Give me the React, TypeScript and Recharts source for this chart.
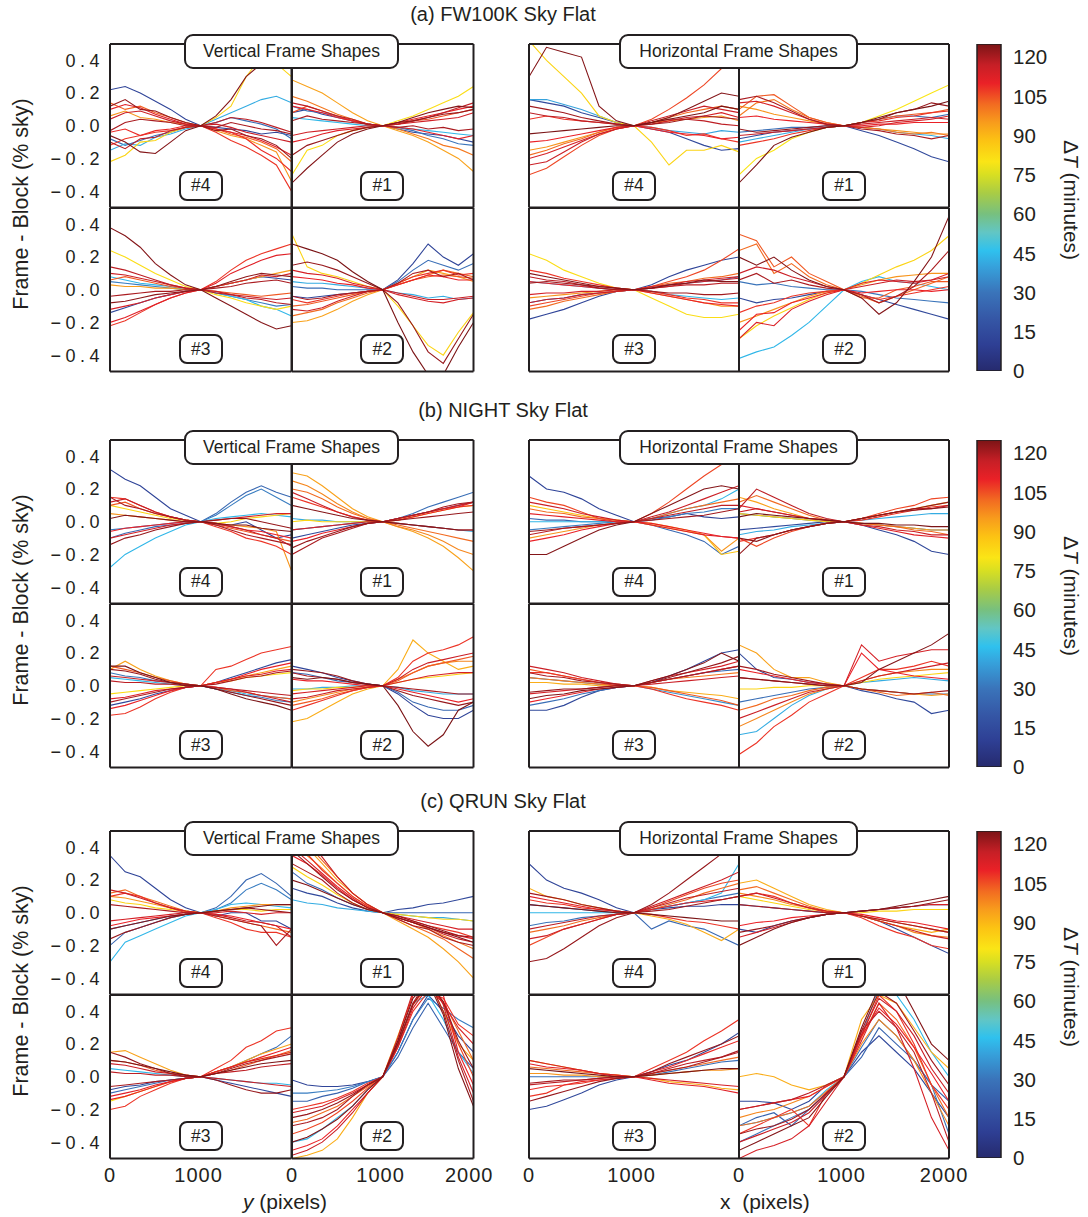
// Frame-minus-block shape panels for three sky flats, coloured by elapsed time.
import { LineChart, Line, XAxis, YAxis, BarChart, Bar } from "recharts";

type Trace = [number, string]; // [ΔT minutes, values ×100 at XS]

const XS = [0, 171, 341, 512, 683, 853, 1024, 1195, 1365, 1536, 1707, 1877, 2048];
const Y_TICKS = [-0.4, -0.2, 0, 0.2, 0.4];
const X_TICKS = [0, 1000, 2000];
const CBAR_TICKS = [0, 15, 30, 45, 60, 75, 90, 105, 120];
const SECTION_TITLES = ["(a) FW100K Sky Flat", "(b) NIGHT Sky Flat", "(c) QRUN Sky Flat"];
const GROUP_TITLES = ["Vertical Frame Shapes", "Horizontal Frame Shapes"];
const PANEL_LABELS = ["#4", "#1", "#3", "#2"];

// ---- (a) FW100K ----
const FW_V4: Trace[] = [
  [12, "22 24 20 15 10 4 0 -1 -2 -3 -5 -4 -6"],
  [28, "-8 -12 -9 -6 -4 -1 0 2 5 3 1 -2 -8"],
  [42, "-15 -11 -12 -7 -5 -2 0 4 8 12 16 18 14"],
  [84, "-22 -18 -10 -9 -4 -1 0 5 12 30 42 38 30"],
  [96, "6 9 5 4 2 1 0 -3 -6 -8 -12 -16 -34"],
  [103, "14 10 12 8 5 2 0 -2 -5 -7 -10 -14 -22"],
  [108, "-12 -8 -6 -4 -3 -1 0 -4 -9 -13 -18 -24 -40"],
  [109, "-4 -2 -6 -3 -2 0 0 -2 -4 -8 -15 -20 -28"],
  [112, "10 13 11 7 4 1 0 -2 -4 -6 -9 -13 -18"],
  [116, "4 8 9 6 3 1 0 1 -1 -4 -6 -8 -10"],
  [118, "-10 -14 -8 -7 -3 -1 0 2 5 4 2 -1 -4"],
  [120, "-3 2 4 3 2 0 0 -1 2 0 -2 -3 -5"],
  [122, "12 16 10 9 5 2 0 -3 -2 -6 -8 -12 -20"],
  [124, "-6 -10 -16 -17 -10 -3 0 6 16 30 38 40 36"],
];
const FW_V1: Trace[] = [
  [14, "8 10 7 5 3 1 0 -2 -4 -5 -6 -8 -10"],
  [30, "12 9 8 6 3 1 0 -1 -3 -6 -8 -11 -12"],
  [44, "5 4 3 2 1 0 0 -1 -2 -3 -4 -5 -6"],
  [82, "-30 -15 -12 -6 -3 -1 0 3 6 10 14 18 24"],
  [94, "28 24 20 14 8 3 0 -3 -6 -10 -15 -20 -28"],
  [100, "18 15 11 7 4 1 0 -2 -5 -8 -12 -14 -18"],
  [105, "8 12 9 6 3 1 0 1 3 4 6 8 10"],
  [110, "12 10 8 5 3 1 0 2 4 6 8 10 12"],
  [112, "-10 -8 -5 -3 -2 -1 0 -1 -2 -4 -6 -8 -6"],
  [115, "-6 -4 -3 -2 -1 0 0 1 2 3 4 5 8"],
  [118, "14 12 9 6 4 1 0 1 3 5 8 11 14"],
  [120, "3 6 4 3 2 1 0 -1 0 -2 -1 -3 -2"],
  [122, "-18 -12 -9 -6 -3 -1 0 2 3 5 7 8 10"],
  [124, "-35 -26 -18 -10 -5 -2 0 2 5 8 10 12 11"],
];
const FW_V3: Trace[] = [
  [14, "-14 -11 -8 -5 -3 -1 0 2 4 6 8 7 6"],
  [32, "5 4 3 2 1 0 0 -2 -4 -6 -8 -10 -9"],
  [44, "8 6 4 3 2 0 0 -2 -4 -6 -10 -12 -16"],
  [82, "24 20 15 10 6 2 0 -3 -5 -8 -10 -12 -10"],
  [95, "3 2 2 1 1 0 0 2 4 6 8 10 12"],
  [104, "6 8 6 4 2 1 0 -1 -2 -3 -4 -3 -2"],
  [108, "-22 -19 -14 -9 -5 -2 0 5 12 18 22 25 28"],
  [112, "-20 -17 -13 -9 -5 -2 0 4 10 14 18 21 22"],
  [114, "-12 -10 -8 -5 -3 -1 0 2 4 6 9 8 10"],
  [116, "10 9 7 5 3 1 0 -1 -3 -4 -5 -6 -5"],
  [118, "14 12 9 6 3 1 0 -2 -3 -5 -6 -8 -9"],
  [120, "-4 -3 -2 -1 -1 0 0 1 2 4 5 6 4"],
  [123, "-8 -7 -5 -3 -2 -1 0 2 5 8 10 9 8"],
  [124, "38 33 26 16 9 3 0 -5 -10 -15 -20 -24 -22"],
];
const FW_V2: Trace[] = [
  [12, "-4 -5 -4 -3 -2 -1 0 6 16 28 20 15 22"],
  [28, "2 1 1 0 0 0 0 5 12 18 15 12 16"],
  [42, "5 4 4 3 2 1 0 -2 -3 -5 -4 -6 -5"],
  [84, "34 14 10 8 5 2 0 -10 -22 -34 -40 -26 -14"],
  [94, "-20 -19 -16 -12 -7 -3 0 4 8 12 10 8 5"],
  [102, "-16 -14 -12 -8 -5 -2 0 3 6 9 12 10 8"],
  [104, "-10 -9 -7 -5 -3 -1 0 3 6 8 9 8 7"],
  [108, "-6 -8 -6 -4 -2 -1 0 4 8 10 12 9 10"],
  [110, "8 7 6 4 3 1 0 3 6 9 8 6 6"],
  [114, "12 10 9 7 4 2 0 -3 -5 -7 -8 -6 -5"],
  [116, "-12 -13 -11 -7 -4 -1 0 -2 -4 -6 -6 -5 -4"],
  [120, "-4 -6 -5 -3 -2 -1 0 4 10 12 8 10 6"],
  [122, "15 17 15 12 8 4 0 -8 -22 -38 -45 -30 -15"],
  [125, "28 25 22 18 11 5 0 -20 -38 -52 -52 -35 -20"],
];
const FW_H4: Trace[] = [
  [14, "16 14 12 8 5 2 0 -2 -4 -8 -12 -15 -14"],
  [40, "16 16 13 10 6 2 0 -1 -3 -4 -5 -3 -4"],
  [84, "52 40 30 20 6 2 0 -10 -24 -15 -15 -12 -16"],
  [96, "-15 -13 -10 -7 -4 -1 0 2 3 4 5 6 3"],
  [102, "-18 -15 -11 -8 -4 -1 0 2 5 8 10 12 10"],
  [106, "-30 -26 -19 -12 -6 -2 0 4 10 17 25 35 38"],
  [108, "4 6 4 3 2 1 0 -1 -3 -6 -5 -8 -10"],
  [110, "-10 -9 -7 -5 -3 -1 0 -2 -4 -5 -6 -8 -7"],
  [114, "-20 -17 -13 -9 -5 -2 0 1 3 5 6 8 5"],
  [116, "-24 -22 -16 -10 -5 -2 0 3 6 9 12 10 8"],
  [118, "8 6 5 3 2 1 0 2 4 4 3 1 0"],
  [121, "12 10 8 5 3 1 0 1 2 4 6 5 4"],
  [124, "30 48 45 42 12 3 0 2 5 10 15 20 18"],
  [125, "-5 -4 -3 -2 -1 0 0 2 4 6 8 12 10"],
];
const FW_H1: Trace[] = [
  [14, "-8 -6 -4 -3 -2 -1 0 -3 -6 -10 -14 -19 -22"],
  [28, "-4 -3 -2 -1 -1 0 0 2 4 6 6 5 7"],
  [42, "-10 -8 -6 -4 -2 -1 0 -1 -2 -4 -5 -6 -8"],
  [80, "-30 -20 -15 -8 -4 -1 0 2 6 10 15 20 25"],
  [96, "12 10 7 5 3 1 0 -1 -2 -3 -4 -5 -5"],
  [100, "6 14 16 10 5 2 0 -1 -2 -4 -5 -4 -6"],
  [104, "10 18 19 12 5 2 0 2 4 6 7 8 10"],
  [108, "-12 -10 -8 -5 -3 -1 0 2 3 5 6 8 9"],
  [110, "5 6 4 3 2 1 0 0 1 1 2 2 2"],
  [114, "14 15 12 8 4 1 0 -1 0 2 3 4 6"],
  [116, "-6 -5 -4 -3 -2 -1 0 1 2 3 4 5 4"],
  [120, "16 18 14 9 4 1 0 -2 -3 -5 -6 -8 -6"],
  [122, "-2 -4 -3 -2 -1 0 0 2 4 8 10 14 12"],
  [125, "-35 -24 -12 -7 -4 -1 0 2 5 8 10 12 15"],
];
const FW_H3: Trace[] = [
  [12, "-18 -15 -12 -8 -4 -1 0 3 8 12 15 18 20"],
  [30, "-8 -6 -5 -3 -2 -1 0 1 3 4 5 6 8"],
  [44, "5 4 3 2 1 0 0 -1 -3 -4 -5 -6 -5"],
  [82, "22 18 12 8 4 1 0 -5 -10 -15 -17 -17 -15"],
  [96, "-5 -4 -3 -2 -1 0 0 -2 -4 -6 -8 -10 -10"],
  [102, "-12 -10 -7 -5 -3 -1 0 2 4 5 7 8 10"],
  [106, "-10 -8 -6 -4 -2 -1 0 2 5 8 12 18 25"],
  [108, "12 10 7 5 3 1 0 -1 -3 -5 -6 -8 -8"],
  [110, "5 4 3 2 1 0 0 -2 -4 -6 -8 -9 -10"],
  [114, "-3 -2 -2 -1 -1 0 0 2 3 5 6 7 8"],
  [116, "-8 -6 -5 -3 -2 -1 0 1 2 4 5 6 7"],
  [118, "8 6 5 3 2 1 0 1 2 3 3 4 4"],
  [121, "4 5 4 3 1 0 0 -1 -2 -2 -3 -3 -2"],
  [124, "10 8 6 4 2 1 0 1 3 4 6 5 5"],
];
const FW_H2: Trace[] = [
  [14, "-5 -8 -6 -5 -3 -1 0 -3 -6 -9 -12 -15 -18"],
  [30, "5 3 4 2 1 0 0 -1 -3 -5 -6 -7 -8"],
  [44, "-42 -38 -35 -28 -20 -10 0 5 8 5 4 2 0"],
  [84, "-30 -22 -16 -11 -6 -2 0 4 9 14 18 24 33"],
  [96, "-20 -16 -12 -8 -4 -1 0 3 6 8 9 10 10"],
  [102, "24 28 10 16 8 3 0 -4 -8 -4 0 4 8"],
  [104, "34 30 14 20 10 5 0 -5 -5 0 2 5 5"],
  [108, "-14 -10 -8 -4 -2 -1 0 -3 -6 -4 -2 0 2"],
  [110, "-25 -15 -14 -8 -5 -2 0 -2 -1 0 0 -1 0"],
  [113, "-30 -20 -22 -12 -7 -3 0 4 6 5 4 6 10"],
  [116, "10 14 12 8 5 2 0 2 4 6 5 6 8"],
  [120, "6 10 4 6 3 1 0 -3 -8 -4 2 12 24"],
  [124, "20 15 20 12 6 2 0 -5 -15 -8 5 20 45"],
];

// ---- (b) NIGHT ----
const NT_V4: Trace[] = [
  [12, "32 26 22 15 8 4 0 -2 -2 0 -5 -10 -8"],
  [26, "-10 -7 -5 -3 -2 -1 0 5 12 18 22 18 15"],
  [32, "-5 -4 -3 -2 -1 0 0 4 10 16 20 15 10"],
  [44, "-28 -20 -15 -10 -6 -2 0 2 3 4 5 4 3"],
  [84, "10 8 6 4 2 1 0 -1 0 2 3 4 5"],
  [96, "5 4 3 2 1 0 0 -1 -2 -3 -4 -6 -30"],
  [104, "10 12 8 5 3 1 0 -2 -4 -6 -8 -10 -12"],
  [108, "15 14 10 6 3 1 0 -3 -6 -10 -12 -15 -20"],
  [110, "-6 -4 -3 -2 -1 0 0 -1 -3 -5 -6 -8 -10"],
  [114, "-10 -8 -6 -4 -2 -1 0 1 2 3 4 5 5"],
  [117, "12 14 10 6 3 1 0 -1 -3 -5 -8 -10 -15"],
  [120, "15 10 8 5 3 1 0 -2 -5 -8 -10 -12 -14"],
  [122, "-14 -10 -8 -5 -3 -1 0 1 2 2 0 -2 -4"],
  [124, "2 4 3 2 1 0 0 -1 -2 -2 -4 -5 -6"],
];
const NT_V1: Trace[] = [
  [14, "-10 -8 -6 -4 -2 -1 0 2 4 6 8 10 12"],
  [28, "-5 -4 -3 -2 -1 0 0 2 5 9 12 15 18"],
  [42, "2 1 1 0 0 0 0 -1 -2 -3 -4 -5 -6"],
  [84, "0 1 0 0 0 0 0 1 3 5 7 9 10"],
  [94, "30 28 22 15 8 3 0 -3 -6 -10 -15 -22 -30"],
  [98, "25 22 17 11 6 2 0 -3 -5 -8 -12 -17 -20"],
  [102, "20 18 14 9 5 2 0 -2 -4 -6 -8 -10 -12"],
  [108, "15 12 9 6 3 1 0 2 4 6 8 9 10"],
  [110, "-12 -10 -7 -5 -3 -1 0 1 3 5 7 9 12"],
  [114, "-5 -4 -3 -2 -1 0 0 -1 -2 -3 -4 -5 -5"],
  [116, "18 14 10 6 3 1 0 2 4 6 8 10 12"],
  [120, "-20 -15 -10 -7 -4 -1 0 2 4 6 9 11 12"],
  [122, "-16 -12 -9 -6 -3 -1 0 1 2 3 4 5 6"],
  [124, "10 8 6 4 2 1 0 -1 -2 -3 -4 -5 -5"],
];
const NT_V3: Trace[] = [
  [14, "-12 -10 -8 -5 -3 -1 0 2 5 8 11 14 16"],
  [30, "8 6 5 3 2 1 0 -2 -4 -6 -7 -9 -10"],
  [44, "5 4 3 2 1 0 0 -2 -3 -5 -6 -7 -8"],
  [82, "-5 -4 -3 -2 -1 0 0 2 3 5 6 7 8"],
  [94, "10 15 10 6 3 1 0 2 4 6 8 10 12"],
  [104, "12 10 8 5 3 1 0 -1 -3 -4 -6 -7 -8"],
  [108, "-18 -17 -13 -8 -4 -1 0 10 12 16 20 22 24"],
  [110, "-14 -12 -9 -6 -3 -1 0 2 4 7 10 12 14"],
  [112, "-8 -7 -5 -3 -2 -1 0 2 4 6 7 9 10"],
  [116, "6 5 4 3 2 1 0 -1 -2 -4 -6 -8 -10"],
  [118, "3 2 2 1 1 0 0 -1 -2 -3 -4 -5 -6"],
  [120, "-10 -8 -6 -4 -2 -1 0 1 3 5 6 8 9"],
  [122, "10 9 7 4 2 1 0 -2 -4 -6 -8 -10 -12"],
  [125, "12 12 8 5 2 0 0 -2 -5 -8 -10 -12 -15"],
];
const NT_V2: Trace[] = [
  [12, "12 10 8 5 3 1 0 -5 -12 -18 -20 -20 -15"],
  [26, "8 7 5 3 2 1 0 -4 -10 -13 -15 -15 -12"],
  [42, "-2 -2 -1 -1 0 0 0 -1 -3 -4 -5 -5 -5"],
  [84, "-3 -2 -2 -1 -1 0 0 2 4 5 6 7 8"],
  [92, "-22 -20 -15 -10 -5 -2 0 10 28 20 15 10 12"],
  [98, "-10 -8 -6 -4 -2 -1 0 4 8 12 14 15 15"],
  [104, "-12 -10 -8 -5 -3 -1 0 3 8 12 14 16 18"],
  [108, "-15 -12 -9 -6 -3 -1 0 5 15 20 22 25 30"],
  [110, "4 3 3 2 1 0 0 -2 -4 -6 -8 -10 -8"],
  [114, "-5 -4 -3 -2 -1 0 0 2 4 6 7 8 8"],
  [116, "-8 -7 -5 -3 -2 -1 0 4 10 14 16 18 20"],
  [120, "8 6 5 4 2 1 0 -1 -2 -3 -4 -5 -5"],
  [122, "10 9 8 6 3 1 0 -3 -6 -8 -10 -12 -10"],
  [125, "5 4 5 4 2 1 0 -12 -28 -37 -30 -15 -10"],
];
const NT_H4: Trace[] = [
  [12, "28 20 18 14 8 4 0 2 3 5 3 2 3"],
  [26, "2 1 1 0 0 0 0 -2 -5 -8 -12 -20 -15"],
  [32, "-5 -4 -3 -2 -1 0 0 1 3 5 6 8 8"],
  [44, "0 0 0 0 0 0 0 2 5 8 10 14 20"],
  [88, "10 8 6 4 2 1 0 -1 -3 -5 -8 -20 -18"],
  [96, "-10 -8 -6 -4 -2 -1 0 -2 -4 -6 -8 -18 -10"],
  [102, "8 6 5 3 2 1 0 2 5 8 10 12 14"],
  [106, "15 12 10 6 2 0 0 5 12 20 28 35 45"],
  [110, "-12 -10 -8 -5 -3 -1 0 -1 -3 -5 -7 -9 -10"],
  [112, "5 4 3 2 1 0 0 -2 -4 -6 -8 -9 -10"],
  [116, "12 10 8 5 3 1 0 3 6 10 14 18 22"],
  [118, "-8 -6 -4 -3 -2 -1 0 2 4 6 8 10 10"],
  [121, "-6 -5 -4 -3 -2 -1 0 1 2 3 4 6 8"],
  [124, "-20 -20 -15 -10 -5 -2 0 5 10 15 20 22 20"],
];
const NT_H1: Trace[] = [
  [14, "-5 -4 -3 -2 -1 0 0 -2 -5 -8 -12 -18 -20"],
  [28, "5 4 3 2 1 0 0 -1 -2 -3 -4 -5 -5"],
  [42, "-8 -6 -5 -3 -2 -1 0 1 2 3 4 5 5"],
  [84, "5 4 3 2 1 0 0 2 4 6 8 10 12"],
  [94, "15 12 8 5 2 1 0 -1 -2 -3 -4 -5 -5"],
  [102, "12 16 12 8 4 1 0 -1 -2 -3 -5 -6 -8"],
  [106, "-10 -15 -10 -6 -3 -1 0 2 5 8 10 14 15"],
  [108, "-12 -10 -8 -5 -3 -1 0 1 3 5 7 9 10"],
  [112, "10 8 6 4 2 1 0 -2 -4 -6 -8 -9 -10"],
  [116, "6 8 6 4 2 1 0 -2 -3 -5 -6 -8 -8"],
  [118, "8 20 15 10 5 2 0 2 4 6 8 8 10"],
  [122, "-20 -10 -8 -5 -3 -1 0 2 4 6 8 10 12"],
  [123, "-10 -12 -8 -5 -3 -1 0 2 4 6 7 8 9"],
  [125, "3 5 4 3 2 1 0 -1 -1 -2 -2 -3 -3"],
];
const NT_H3: Trace[] = [
  [14, "-15 -15 -12 -7 -3 -1 0 2 6 10 15 20 22"],
  [28, "-12 -10 -8 -5 -3 -1 0 2 4 6 8 9 10"],
  [36, "5 4 3 2 1 0 0 -2 -4 -6 -8 -10 -12"],
  [92, "2 2 1 1 0 0 0 -1 -3 -4 -5 -6 -8"],
  [100, "5 4 3 2 1 0 0 2 4 5 6 7 8"],
  [104, "10 8 6 4 2 1 0 -1 -3 -5 -7 -9 -12"],
  [108, "8 8 6 4 2 0 0 -2 -5 -8 -10 -12 -15"],
  [110, "-10 -8 -6 -4 -2 -1 0 2 4 6 8 10 12"],
  [114, "-5 -4 -3 -2 -1 0 0 3 6 8 10 12 15"],
  [116, "12 10 8 5 3 1 0 1 2 3 4 5 6"],
  [120, "8 6 5 3 2 1 0 2 4 6 8 10 12"],
  [122, "-4 -3 -2 -2 -1 0 0 2 5 8 11 14 18"],
  [124, "-8 -6 -5 -3 -2 -1 0 3 6 10 14 20 15"],
];
const NT_H2: Trace[] = [
  [14, "20 10 5 4 2 1 0 -3 -5 -8 -10 -17 -15"],
  [28, "-10 -8 -6 -4 -2 -1 0 -2 -3 -4 -5 -5 -5"],
  [42, "-30 -28 -20 -12 -6 -2 0 2 3 4 5 4 3"],
  [84, "-2 -2 -1 -1 0 0 0 2 4 5 6 7 8"],
  [94, "25 20 10 5 5 2 0 -2 -3 -4 -5 -6 -5"],
  [98, "-25 -20 -15 -10 -5 -2 0 3 6 8 9 10 10"],
  [102, "-15 -12 -8 -6 -3 -1 0 -2 -4 -6 -5 -4 -6"],
  [108, "-42 -35 -25 -18 -10 -5 0 5 10 10 12 15 12"],
  [110, "10 8 6 4 2 1 0 20 10 8 6 5 4"],
  [114, "5 4 3 2 1 0 0 25 15 18 20 22 22"],
  [116, "-20 -16 -12 -8 -4 -2 0 3 6 8 10 12 14"],
  [121, "12 10 7 5 3 1 0 -2 -3 -4 -5 -4 -3"],
  [124, "5 4 3 2 1 0 0 2 10 15 20 25 32"],
];

// ---- (c) QRUN ----
const QR_V4: Trace[] = [
  [12, "35 25 22 15 8 3 0 -2 0 0 -5 -5 -10"],
  [26, "-20 -12 -9 -6 -3 -1 0 3 10 20 24 18 10"],
  [32, "-10 -8 -6 -4 -2 -1 0 2 6 14 18 14 8"],
  [44, "-30 -18 -14 -10 -6 -2 0 2 5 6 5 4 3"],
  [84, "8 6 5 3 2 1 0 1 2 2 1 2 2"],
  [96, "10 9 7 5 3 1 0 1 3 4 5 5 5"],
  [102, "12 14 10 7 4 1 0 -2 -4 -6 -8 -10 -12"],
  [108, "10 12 10 6 3 0 0 -3 -6 -10 -12 -12 -15"],
  [110, "-8 -6 -4 -3 -2 -1 0 -1 -2 -4 -6 -8 -10"],
  [114, "-5 -4 -3 -2 -1 0 0 0 1 0 -1 0 0"],
  [116, "14 12 9 6 3 1 0 -1 -3 -5 -6 -8 -15"],
  [120, "5 4 3 2 1 0 0 -2 -4 -6 -8 -20 -10"],
  [122, "-16 -12 -9 -6 -3 -1 0 1 2 3 2 1 0"],
  [124, "-10 -8 -6 -4 -2 -1 0 1 2 3 4 5 5"],
];
const QR_V1: Trace[] = [
  [14, "15 12 10 6 3 1 0 2 3 5 6 8 10"],
  [26, "25 18 14 9 5 2 0 0 0 0 0 0 0"],
  [42, "8 6 5 3 2 1 0 -1 -2 -3 -3 -4 -5"],
  [84, "28 22 17 11 6 2 0 -1 -2 -3 -4 -4 -5"],
  [94, "45 40 30 20 12 5 0 -5 -10 -15 -22 -30 -40"],
  [100, "40 35 27 18 10 4 0 -3 -6 -10 -14 -18 -22"],
  [103, "48 42 32 22 12 5 0 -4 -8 -12 -16 -22 -28"],
  [108, "50 36 26 18 10 4 0 -2 -5 -8 -10 -12 -15"],
  [110, "35 30 23 15 8 3 0 -3 -6 -9 -12 -14 -16"],
  [114, "40 32 24 16 9 3 0 -2 -4 -6 -8 -10 -10"],
  [117, "50 45 34 22 12 5 0 -3 -6 -9 -13 -16 -18"],
  [120, "30 25 20 12 6 2 0 -4 -8 -10 -15 -18 -20"],
  [122, "38 30 22 14 8 3 0 -2 -5 -8 -11 -14 -15"],
  [124, "20 17 13 9 5 2 0 -3 -6 -9 -12 -15 -18"],
];
const QR_V3: Trace[] = [
  [14, "-8 -6 -5 -3 -2 -1 0 -2 -4 -6 -8 -10 -12"],
  [28, "-10 -8 -6 -4 -2 -1 0 3 6 10 14 18 25"],
  [44, "5 4 3 2 1 0 0 -1 -2 -3 -4 -4 -5"],
  [82, "-15 -12 -9 -6 -3 -1 0 3 6 9 11 13 15"],
  [94, "15 16 12 8 4 1 0 3 6 10 14 17 20"],
  [104, "10 9 7 4 2 1 0 2 4 7 10 13 16"],
  [108, "-20 -18 -12 -8 -4 -1 0 5 10 18 22 28 30"],
  [110, "-14 -12 -9 -6 -3 -1 0 3 6 9 12 15 18"],
  [112, "-12 -10 -8 -5 -3 -1 0 3 6 9 11 13 15"],
  [116, "8 7 5 3 2 1 0 -1 -2 -3 -4 -5 -6"],
  [118, "3 2 2 1 1 0 0 2 3 4 6 7 8"],
  [120, "-6 -5 -4 -3 -2 -1 0 2 5 8 10 12 14"],
  [122, "15 12 8 5 2 0 0 -2 -5 -8 -10 -10 -8"],
  [125, "10 9 7 5 3 1 0 2 4 6 8 9 10"],
];
const QR_V2: Trace[] = [
  [12, "-2 -5 -6 -6 -5 -3 0 15 35 50 40 25 15"],
  [24, "-15 -15 -12 -10 -7 -3 0 12 30 45 30 15 5"],
  [32, "-10 -10 -9 -8 -6 -3 0 15 35 48 42 35 30"],
  [44, "-40 -38 -32 -25 -18 -8 0 20 45 50 35 15 2"],
  [92, "-50 -48 -45 -38 -25 -10 0 25 50 60 40 20 10"],
  [102, "-28 -26 -22 -18 -12 -6 0 20 44 56 46 28 10"],
  [106, "-35 -32 -28 -22 -15 -7 0 20 45 55 45 20 0"],
  [108, "-20 -18 -16 -13 -9 -4 0 18 40 52 48 32 25"],
  [110, "-45 -42 -38 -30 -20 -10 0 22 50 60 50 15 -5"],
  [114, "-22 -20 -18 -14 -10 -5 0 18 42 55 45 30 20"],
  [116, "-48 -45 -40 -32 -22 -10 0 24 52 62 44 12 -10"],
  [120, "-30 -28 -25 -20 -12 -5 0 20 45 60 40 10 -15"],
  [122, "-25 -23 -20 -16 -11 -5 0 20 44 58 46 22 5"],
  [124, "-40 -37 -32 -26 -18 -8 0 22 48 58 38 5 -18"],
];
const QR_H4: Trace[] = [
  [12, "30 20 15 12 8 3 0 2 3 4 4 5 5"],
  [26, "5 4 3 2 1 0 0 -10 -5 -8 -10 -15 -20"],
  [30, "-8 -6 -5 -3 -2 -1 0 2 4 6 8 10 12"],
  [44, "0 0 0 0 0 0 0 2 4 6 8 12 30"],
  [92, "15 10 8 5 3 1 0 -2 -4 -7 -12 -17 -10"],
  [102, "-12 -10 -8 -5 -3 -1 0 2 5 8 12 15 18"],
  [106, "-20 -15 -10 -7 -4 -1 0 3 7 11 15 18 20"],
  [108, "8 6 5 3 2 1 0 -1 -3 -5 -6 -8 -10"],
  [112, "10 8 6 4 2 1 0 2 4 6 7 8 10"],
  [116, "-16 -14 -10 -7 -4 -1 0 4 8 12 16 20 25"],
  [118, "-10 -8 -6 -4 -2 -1 0 3 6 9 11 13 15"],
  [121, "12 10 8 5 3 1 0 1 2 4 6 8 10"],
  [122, "-30 -28 -22 -15 -8 -3 0 5 12 20 28 36 45"],
  [125, "5 4 3 2 1 0 0 -1 -2 -3 -4 -5 -5"],
];
const QR_H1: Trace[] = [
  [14, "-10 -12 -8 -5 -3 -1 0 -2 -5 -10 -15 -20 -25"],
  [28, "5 4 3 2 1 0 0 1 2 3 4 5 5"],
  [84, "10 8 6 4 2 1 0 0 1 1 2 2 2"],
  [92, "18 20 15 10 5 2 0 -2 -5 -8 -10 -12 -10"],
  [98, "12 10 8 5 3 1 0 -2 -5 -8 -12 -14 -15"],
  [102, "14 16 12 8 4 1 0 -2 -4 -6 -8 -10 -12"],
  [108, "10 12 10 6 3 0 0 -3 -8 -12 -15 -20 -22"],
  [110, "-8 -6 -5 -3 -2 -1 0 -1 -3 -5 -6 -8 -10"],
  [114, "-15 -12 -9 -6 -3 -1 0 1 2 3 4 5 5"],
  [116, "10 12 9 6 3 1 0 -2 -5 -8 -11 -14 -16"],
  [120, "5 4 3 2 1 0 0 -2 -4 -6 -8 -10 -12"],
  [122, "-12 -10 -8 -5 -3 -1 0 1 2 3 4 6 8"],
  [124, "-20 -15 -10 -6 -3 -1 0 1 2 4 6 8 10"],
];
const QR_H3: Trace[] = [
  [14, "-20 -18 -14 -10 -5 -2 0 3 7 10 15 20 27"],
  [28, "0 0 0 0 0 0 0 1 3 5 7 9 10"],
  [92, "10 8 6 4 2 1 0 -1 -3 -4 -5 -7 -8"],
  [96, "2 2 1 1 0 0 0 1 2 3 4 4 5"],
  [102, "6 5 4 3 2 1 0 2 4 6 8 10 12"],
  [108, "-12 -10 -5 -4 -2 -1 0 5 10 15 22 28 35"],
  [109, "-8 -6 -5 -3 -2 -1 0 3 6 10 14 18 22"],
  [112, "8 6 5 4 2 0 0 -2 -4 -5 -6 -8 -10"],
  [114, "10 8 6 4 2 1 0 -1 -2 -3 -4 -5 -6"],
  [118, "-5 -4 -3 -2 -1 0 0 2 5 8 10 12 15"],
  [120, "-4 -3 -2 -2 -1 0 0 2 4 6 9 12 16"],
  [122, "-15 -12 -9 -6 -3 -1 0 3 8 12 16 20 25"],
  [125, "5 4 3 2 1 0 0 1 2 3 4 5 5"],
];
const QR_H2: Trace[] = [
  [14, "-15 -15 -16 -20 -15 -5 0 15 25 15 5 -10 -25"],
  [24, "-30 -25 -22 -30 -20 -10 0 12 30 20 10 -5 -15"],
  [30, "-40 -35 -30 -25 -20 -10 0 18 35 25 10 -5 -35"],
  [44, "-30 -28 -25 -22 -18 -8 0 25 55 50 35 15 0"],
  [92, "0 2 0 -5 -8 -5 0 35 50 45 30 15 5"],
  [98, "-25 -22 -20 -16 -12 -6 0 20 35 25 10 -10 -30"],
  [102, "-30 -28 -25 -22 -18 -9 0 24 45 35 18 -5 -25"],
  [108, "-35 -30 -25 -20 -30 -10 0 25 50 40 20 -5 -20"],
  [110, "-20 -18 -16 -14 -12 -6 0 25 42 32 18 2 -15"],
  [114, "-50 -45 -42 -38 -30 -15 0 22 45 30 5 -25 -45"],
  [116, "-40 -36 -32 -28 -22 -11 0 26 48 40 25 5 -10"],
  [118, "-20 -18 -16 -14 -10 -5 0 28 40 30 15 -10 -40"],
  [121, "-35 -32 -30 -26 -20 -10 0 28 52 45 28 10 -5"],
  [124, "-45 -40 -35 -30 -25 -12 0 30 55 60 40 20 10"],
];

const SECTION_PANELS: Trace[][][][] = [
  [[FW_V4, FW_V1, FW_V3, FW_V2], [FW_H4, FW_H1, FW_H3, FW_H2]],
  [[NT_V4, NT_V1, NT_V3, NT_V2], [NT_H4, NT_H1, NT_H3, NT_H2]],
  [[QR_V4, QR_V1, QR_V3, QR_V2], [QR_H4, QR_H1, QR_H3, QR_H2]],
];

const JET: [number, string][] = [
  [0, "#262a6e"], [10, "#2e3f94"], [20, "#3557a6"], [30, "#3a74ba"], [40, "#36a2dc"],
  [46, "#2fc1ee"], [53, "#62c6c4"], [60, "#77c07f"], [68, "#a9cc45"], [75, "#d8df22"],
  [80, "#fae516"], [88, "#fcc313"], [95, "#f89c1c"], [102, "#f26b21"], [110, "#ea2127"],
  [117, "#c61f26"], [125, "#7b1416"],
];

const INK = "#231f20";
const FONT = '"Liberation Sans", Arial, Helvetica, sans-serif';
const SEC_TOP = [44, 440, 831];
const GROUP_X = [110, 529];
const PANEL_W = [181.5, 210];
const PANEL_H = 163.5;

function hex(c: string) {
  return [1, 3, 5].map((i) => parseInt(c.slice(i, i + 2), 16));
}

function jet(v: number) {
  for (let i = 1; i < JET.length; i++) {
    if (v <= JET[i][0]) {
      const [a, ca] = JET[i - 1];
      const [b, cb] = JET[i];
      const t = (v - a) / (b - a);
      const x = hex(ca), y = hex(cb);
      return `rgb(${x.map((q, k) => Math.round(q + (y[k] - q) * t)).join(",")})`;
    }
  }
  return JET[JET.length - 1][1];
}

const fmtY = (v: number) => (v < 0 ? "\u2212" : "") + Math.abs(v).toFixed(1);

const frame = { stroke: INK, strokeWidth: 2 };
const tickLn = { stroke: INK, strokeWidth: 1.5 };

function Panel({ traces, left, top, w, showY, showX, xTicks }: {
  traces: Trace[]; left: number; top: number; w: number; showY: boolean; showX: boolean; xTicks: number[];
}) {
  const pad = 4;
  const padL = showY ? 70 : showX ? 20 : pad;
  const padR = showX ? 30 : pad;
  const padB = showX ? 36 : pad;
  const series = [...traces]
    .sort((a, b) => a[0] - b[0])
    .map(([dt, s]) => ({ dt, v: s.trim().split(/\s+/).map(Number) }));
  const data = XS.map((x, i) => {
    const row: Record<string, number> = { x };
    series.forEach((s, j) => (row["s" + j] = s.v[i] / 100));
    return row;
  });

  return (
    <div style={{ position: "absolute", left: left - padL, top: top - pad }}>
      <LineChart
        width={w + padL + padR}
        height={PANEL_H + pad + padB}
        data={data}
        margin={{ top: pad, right: padR, bottom: pad, left: showY ? pad : padL }}
      >
        <XAxis xAxisId="b" dataKey="x" type="number" domain={[0, 2048]} allowDataOverflow ticks={X_TICKS}
          interval={0} mirror tick={false} tickSize={7} axisLine={frame} tickLine={tickLn} />
        <XAxis xAxisId="t" orientation="top" dataKey="x" type="number" domain={[0, 2048]} allowDataOverflow
          ticks={X_TICKS} interval={0} mirror tick={false} tickSize={7} axisLine={frame} tickLine={tickLn} />
        {showX && (
          <XAxis xAxisId="lx" dataKey="x" type="number" domain={[0, 2048]} allowDataOverflow ticks={xTicks}
            interval={0} height={padB - pad} axisLine={false} tickLine={false} tickSize={0} tickMargin={9}
            tick={{ fontSize: 20, fill: INK, letterSpacing: 1 }} />
        )}
        <YAxis yAxisId="l" type="number" domain={[-0.5, 0.5]} allowDataOverflow ticks={Y_TICKS} interval={0}
          mirror tick={false} tickSize={7} axisLine={frame} tickLine={tickLn} />
        <YAxis yAxisId="r" orientation="right" type="number" domain={[-0.5, 0.5]} allowDataOverflow ticks={Y_TICKS}
          interval={0} mirror tick={false} tickSize={7} axisLine={frame} tickLine={tickLn} />
        {showY && (
          <YAxis yAxisId="ly" type="number" domain={[-0.5, 0.5]} allowDataOverflow ticks={Y_TICKS} interval={0}
            width={padL - pad} axisLine={false} tickLine={false} tickSize={0} tickMargin={6}
            tickFormatter={fmtY} tick={{ fontSize: 18, fill: INK, letterSpacing: 4.5 }} />
        )}
        {series.map((s, j) => (
          <Line key={j} xAxisId="b" yAxisId="l" dataKey={"s" + j} stroke={jet(s.dt)} strokeWidth={1.1}
            dot={false} isAnimationActive={false} />
        ))}
      </LineChart>
    </div>
  );
}

function ColorBar({ top, id }: { top: number; id: string }) {
  const h = PANEL_H * 2;
  const m = 14;
  return (
    <div style={{ position: "absolute", left: 977 - 2, top: top - m }}>
      <BarChart width={22 + 4 + 60} height={h + 2 * m} data={[{ c: "dt", v: 125 }]}
        margin={{ top: m, right: 2, bottom: m, left: 2 }} barCategoryGap={0}>
        <defs>
          <linearGradient id={id} x1="0" y1="1" x2="0" y2="0">
            {JET.map(([v, c]) => (
              <stop key={v} offset={v / 125} stopColor={c} />
            ))}
          </linearGradient>
        </defs>
        <XAxis dataKey="c" hide />
        <YAxis yAxisId="m" orientation="right" type="number" domain={[0, 125]} allowDataOverflow ticks={CBAR_TICKS}
          interval={0} mirror tick={false} tickSize={5} axisLine={false} tickLine={{ stroke: INK, strokeWidth: 1.2 }} />
        <YAxis yAxisId="lab" orientation="right" type="number" domain={[0, 125]} allowDataOverflow ticks={CBAR_TICKS}
          interval={0} width={58} axisLine={false} tickLine={false} tickSize={0} tickMargin={12}
          tick={{ fontSize: 20.5, fill: INK }} />
        <Bar yAxisId="m" dataKey="v" fill={`url(#${id})`} stroke={INK} strokeWidth={1.5} isAnimationActive={false} />
      </BarChart>
    </div>
  );
}

const boxStyle = {
  position: "absolute" as const,
  boxSizing: "border-box" as const,
  border: `2px solid ${INK}`,
  background: "#fff",
  display: "flex",
  alignItems: "center",
  justifyContent: "center",
  whiteSpace: "nowrap" as const,
};

export default function App() {
  return (
    <div style={{ position: "absolute", left: 0, top: 0, width: 1088, height: 1217, background: "#fff",
      fontFamily: FONT, color: INK, overflow: "hidden" }}>
      {SECTION_TITLES.map((t, s) => (
        <div key={"t" + s} style={{ position: "absolute", left: 303, width: 400, top: SEC_TOP[s] - 40,
          textAlign: "center", fontSize: 20, lineHeight: "20px" }}>{t}</div>
      ))}

      {SECTION_PANELS.map((groups, s) =>
        groups.map((panels, g) =>
          panels.map((traces, p) => {
            const col = p % 2, row = Math.floor(p / 2);
            return (
              <Panel key={`${s}-${g}-${p}`} traces={traces}
                left={GROUP_X[g] + col * PANEL_W[g]} top={SEC_TOP[s] + row * PANEL_H} w={PANEL_W[g]}
                showY={g === 0 && col === 0} showX={s === 2 && row === 1}
                xTicks={col === 0 ? X_TICKS.slice(0, 2) : X_TICKS} />
            );
          })
        )
      )}

      {SECTION_TITLES.map((_, s) =>
        [0, 1].map((g) =>
          PANEL_LABELS.map((lab, p) => {
            const col = p % 2, row = Math.floor(p / 2);
            const cx = GROUP_X[g] + col * PANEL_W[g] + PANEL_W[g] / 2;
            return (
              <div key={`l${s}-${g}-${p}`} style={{ ...boxStyle, left: cx - 22, width: 44, height: 30,
                top: SEC_TOP[s] + (row + 1) * PANEL_H - 37, borderRadius: 8, fontSize: 17.5 }}>{lab}</div>
            );
          })
        )
      )}

      {SECTION_TITLES.map((_, s) =>
        GROUP_TITLES.map((t, g) => (
          <div key={`g${s}-${g}`} style={{ ...boxStyle, left: g === 0 ? 184 : 619, width: g === 0 ? 215 : 239,
            top: SEC_TOP[s] - 10, height: 35, borderRadius: 9, fontSize: 17.5 }}>{t}</div>
        ))
      )}

      {SEC_TOP.map((top, s) => (
        <div key={"y" + s} style={{ position: "absolute", left: 21, top: top + PANEL_H - 4, fontSize: 21.5,
          whiteSpace: "nowrap", transform: "translate(-50%, -50%) rotate(-90deg)" }}>Frame - Block (% sky)</div>
      ))}

      {SEC_TOP.map((top, s) => (
        <ColorBar key={"c" + s} top={top} id={"jetbar" + s} />
      ))}

      {SEC_TOP.map((top, s) => (
        <div key={"d" + s} style={{ position: "absolute", left: 1071, top: top + PANEL_H - 8, fontSize: 21,
          whiteSpace: "nowrap", transform: "translate(-50%, -50%) rotate(90deg)" }}>
          {"\u0394"}<i>T</i> (minutes)
        </div>
      ))}

      <div style={{ position: "absolute", left: 243, top: 1190, fontSize: 21, whiteSpace: "nowrap" }}>
        <i>y</i>&nbsp;(pixels)
      </div>
      <div style={{ position: "absolute", left: 720, top: 1190, fontSize: 21, whiteSpace: "nowrap" }}>
        x&nbsp;&nbsp;(pixels)
      </div>
    </div>
  );
}
